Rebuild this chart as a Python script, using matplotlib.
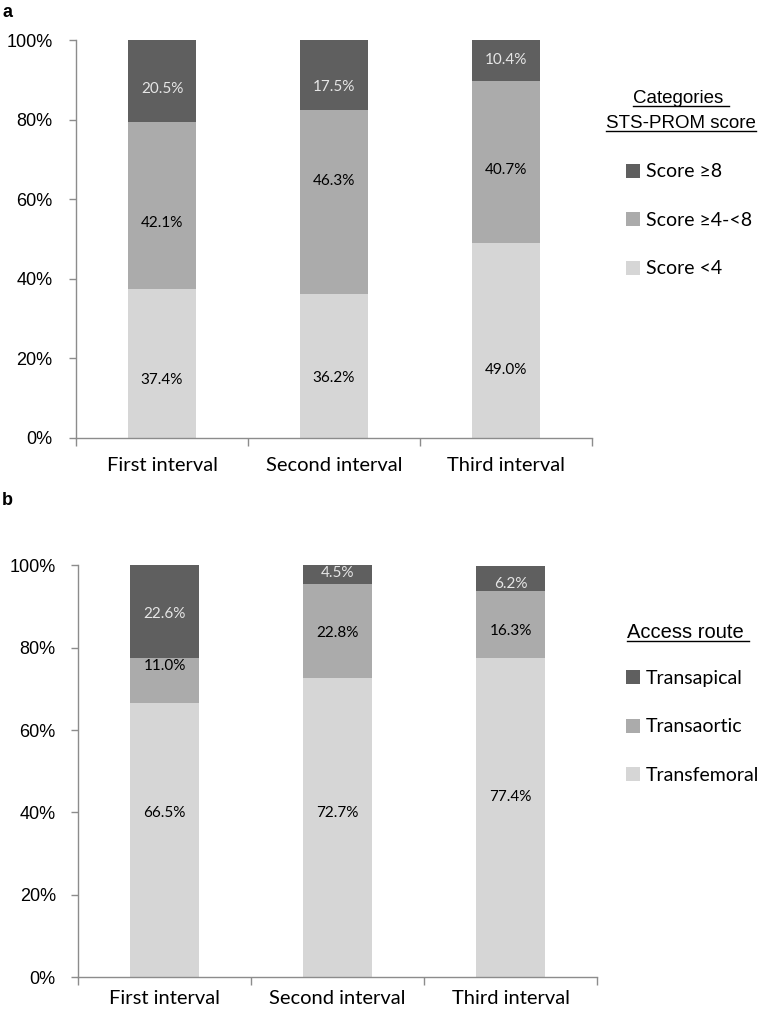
import matplotlib
matplotlib.use('Agg')
import matplotlib.pyplot as plt
from matplotlib.lines import Line2D
import numpy as np

intervals = ['First interval', 'Second interval', 'Third interval']

# panel a: STS-PROM score categories (%)
sts_low = [37.4, 36.2, 49.0]
sts_mid = [42.1, 46.3, 40.7]
sts_high = [20.5, 17.5, 10.4]
sts_names = ['Score <4', 'Score \u22654-<8', 'Score \u22658']

# panel b: access route (%)
tf = [66.5, 72.7, 77.4]
tao = [11.0, 22.8, 16.3]
tap = [22.6, 4.5, 6.2]
route_names = ['Transfemoral', 'Transaortic', 'Transapical']

colors = ['#d6d6d6', '#ababab', '#5f5f5f']
txt_colors = ['black', 'black', '#e6e6e6']
axis_grey = '#8c8c8c'
body_font = ['Lato', 'DejaVu Sans']
head_font = ['Liberation Sans', 'DejaVu Sans']

# hand-placed label nudges in the original (percentage points from segment centre)
shift_a = [[-4.1, -3.1, -7.5], [-4.4, 5.2, -2.0], [-2.0, -3.0, 0.2]]
shift_b = [[6.5, 3.5, 5.0], [3.5, -0.5, -1.4], [-0.6, 0.3, -1.3]]

fig = plt.figure(figsize=(7.61, 10.09), dpi=100)
ax1 = fig.add_axes([0.0999, 0.566, 0.678, 0.394])
ax2 = fig.add_axes([0.1025, 0.0317, 0.682, 0.408])


def stacked(ax, series, names, shifts, xpad, ypad):
    x = np.arange(len(intervals))
    bottom = np.zeros(len(intervals))
    handles = []
    for i, vals in enumerate(series):
        vals = np.array(vals)
        b = ax.bar(x, vals, 0.395, bottom=bottom, color=colors[i], label=names[i])
        handles.append(b)
        for j, v in enumerate(vals):
            ax.text(x[j], bottom[j] + v / 2 + shifts[i][j], '%.1f%%' % v,
                    ha='center', va='center', fontsize=11,
                    color=txt_colors[i], family=body_font)
        bottom = bottom + vals
    ax.set_xlim(-0.5, 2.5)
    ax.set_ylim(0, 100)
    ax.set_yticks(np.arange(0, 101, 20))
    ax.set_yticklabels(['%d%%' % t for t in range(0, 101, 20)],
                       fontsize=13, family=head_font)
    ax.set_xticks(x)
    ax.set_xticklabels(intervals, fontsize=14.5, family=body_font)
    ax.set_xticks([-0.5, 0.5, 1.5, 2.5], minor=True)
    ax.tick_params(axis='x', which='major', length=0, pad=xpad)
    ax.tick_params(axis='x', which='minor', length=6, color=axis_grey, width=1)
    ax.tick_params(axis='y', length=5, color=axis_grey, width=1, pad=ypad)
    for s in ['top', 'right']:
        ax.spines[s].set_visible(False)
    for s in ['left', 'bottom']:
        ax.spines[s].set_color(axis_grey)
        ax.spines[s].set_linewidth(1)
    return handles


h1 = stacked(ax1, [sts_low, sts_mid, sts_high], sts_names, shift_a, 14, 12)
h2 = stacked(ax2, [tf, tao, tap], route_names, shift_b, 9, 11)

leg_kw = dict(frameon=False, handlelength=0.75, handleheight=0.75,
              handletextpad=0.3, labelspacing=1.62, borderpad=0,
              borderaxespad=0, loc='upper left',
              prop={'family': body_font, 'size': 14})
fig.legend(h1[::-1], sts_names[::-1], bbox_to_anchor=(0.822, 0.838), **leg_kw)
fig.legend(h2[::-1], route_names[::-1], bbox_to_anchor=(0.822, 0.336), **leg_kw)

titles = [
    fig.text(0.895, 0.902, 'Categories ', ha='center', va='center',
             fontsize=13.5, family=head_font),
    fig.text(0.895, 0.878, 'STS-PROM score', ha='center', va='center',
             fontsize=13.5, family=head_font),
    fig.text(0.824, 0.373, 'Access route ', ha='left', va='center',
             fontsize=14.5, family=head_font),
]

fig.text(0.003, 0.988, 'a', fontsize=13, fontweight='bold', family=head_font,
         va='center')
fig.text(0.003, 0.504, 'b', fontsize=13, fontweight='bold', family=head_font,
         va='center')

# underline the legend titles
fig.canvas.draw()
r = fig.canvas.get_renderer()
for t in titles:
    bb = t.get_window_extent(r).transformed(fig.transFigure.inverted())
    y = bb.y0 + 0.001
    fig.add_artist(Line2D([bb.x0, bb.x1], [y, y], color='black', lw=1,
                          transform=fig.transFigure))

fig.savefig('out.png', dpi=100)
